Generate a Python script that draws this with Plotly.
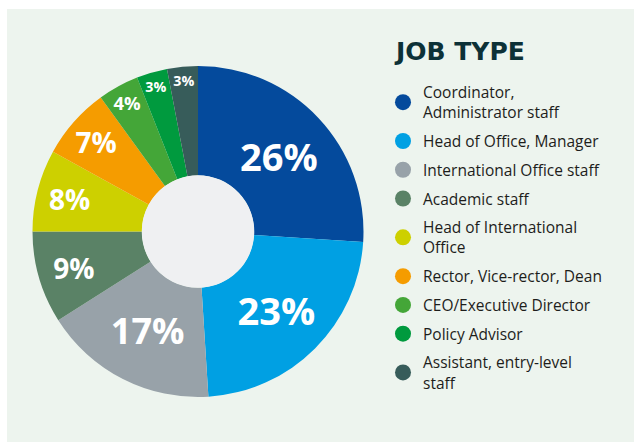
import plotly.graph_objects as go

# job type shares (percent), clockwise from 12 o'clock
job_types = [
    "Coordinator,<br>Administrator staff",
    "Head of Office, Manager",
    "International Office staff",
    "Academic staff",
    "Head of International<br>Office",
    "Rector, Vice-rector, Dean",
    "CEO/Executive Director",
    "Policy Advisor",
    "Assistant, entry-level<br>staff",
]
shares = [26, 23, 17, 9, 8, 7, 4, 3, 3]
slice_colors = ["#044a9c", "#00a0e3", "#98a2a9", "#5a8266", "#cdd000",
                "#f59c00", "#44a638", "#009a3e", "#375c5a"]
label_sizes = [38, 38, 36, 28, 28, 28, 20, 20, 20]

W, H = 634, 442
cx, cy, R, r_hole = 198, 231.5, 165.5, 56

def px_domain(c, rad, total, flip=False):
    a, b = (c - rad) / total, (c + rad) / total
    if flip:
        a, b = 1 - b, 1 - a
    return [a, b]

fig = go.Figure()

fig.add_trace(go.Pie(
    labels=job_types,
    values=shares,
    sort=False,
    direction="clockwise",
    rotation=0,
    hole=0.34,
    marker=dict(colors=slice_colors, line=dict(width=0)),
    text=[f"{v}%" for v in shares],
    textinfo="text",
    textposition="inside",
    insidetextorientation="horizontal",
    textfont=dict(family="Open Sans", color="white", size=label_sizes, weight="bold"),
    domain=dict(x=px_domain(cx, R, W), y=px_domain(cy, R, H, flip=True)),
    showlegend=False,
    hoverinfo="label+value",
))

# centre disc
fig.add_trace(go.Pie(
    values=[1],
    marker=dict(colors=["#eff0f2"], line=dict(width=0)),
    textinfo="none",
    hoverinfo="skip",
    showlegend=False,
    domain=dict(x=px_domain(cx, r_hole, W), y=px_domain(cy, r_hole, H, flip=True)),
))

# legend entries with round markers
for i, (name, col) in enumerate(zip(job_types, slice_colors)):
    fig.add_trace(go.Scatter(
        x=[None], y=[None], mode="markers", name=name,
        marker=dict(color=col, size=16, symbol="circle"),
        legendgroup=f"g{i}", showlegend=True,
    ))

fig.update_layout(
    width=W, height=H,
    margin=dict(l=0, r=0, t=0, b=0),
    paper_bgcolor="white",
    plot_bgcolor="rgba(0,0,0,0)",
    xaxis=dict(visible=False),
    yaxis=dict(visible=False),
    shapes=[dict(type="rect", xref="paper", yref="paper", layer="below",
                 x0=7 / W, x1=1, y0=0, y1=1 - 9 / H,
                 fillcolor="#edf4ee", line=dict(width=0))],
    annotations=[dict(text="JOB TYPE", xref="paper", yref="paper",
                      x=392 / W, xanchor="left", y=1 - 51 / H, yanchor="middle",
                      showarrow=False,
                      font=dict(family="DejaVu Sans", size=25, color="#0d3137",
                                weight="bold"))],
    legend=dict(
        x=383 / W, xanchor="left", y=1 - 75.5 / H, yanchor="top",
        bgcolor="rgba(0,0,0,0)",
        font=dict(family="Open Sans", size=15.5, color="#1d1d1b"),
        traceorder="grouped",
        tracegroupgap=5.6,
    ),
)

fig.write_html("out.html", config={"displayModeBar": False},
               post_script="document.body.style.margin='0px';")
